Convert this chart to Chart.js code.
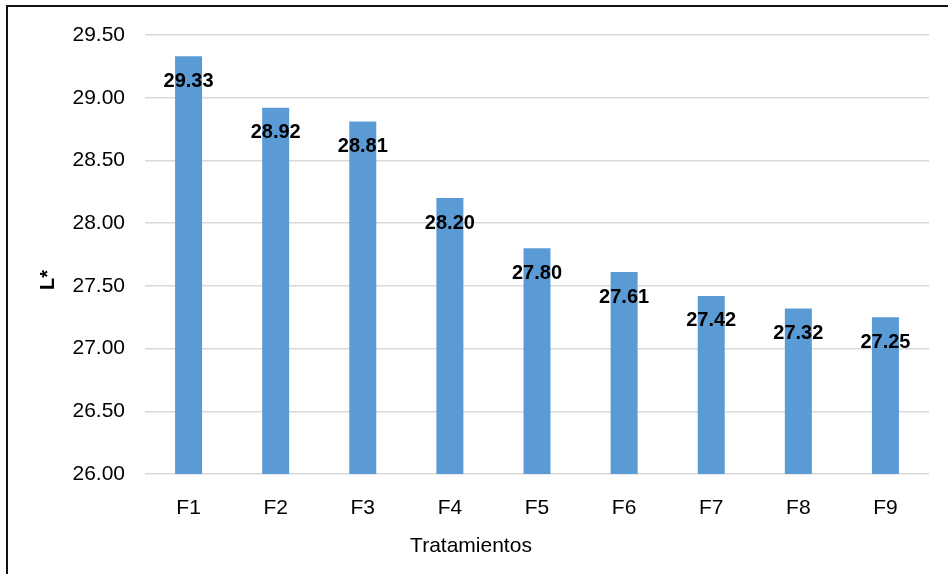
<!DOCTYPE html>
<html lang="es">
<head>
<meta charset="UTF-8">
<title>L* por tratamiento</title>
<script src="https://cdn.jsdelivr.net/npm/chart.js"></script>
<style>
  html, body { margin: 0; padding: 0; background: #fff; overflow: hidden; }
  .marco { position: absolute; left: 6px; top: 5px; width: 980px; height: 620px; border: 2px solid #111; }
  #grafico { position: absolute; left: 0; top: 0; }
</style>
</head>
<body>
<div class="marco"></div>
<canvas id="grafico" width="948" height="574"></canvas>
<script>
  // datos
  const tratamientos = ['F1', 'F2', 'F3', 'F4', 'F5', 'F6', 'F7', 'F8', 'F9'];
  const valoresL = [29.33, 28.92, 28.81, 28.20, 27.80, 27.61, 27.42, 27.32, 27.25];
  const yMin = 26.0, yMax = 29.5, yPaso = 0.5;
  const tituloX = 'Tratamientos';
  const tituloY = 'L*';

  const fuente = "'Liberation Sans', Arial, sans-serif";

  // etiquetas de valor dentro de la barra + titulos de ejes (en Excel no quedan centrados en el area)
  const etiquetasValor = {
    id: 'etiquetasValor',
    afterDatasetsDraw(chart) {
      const ctx = chart.ctx;
      const meta = chart.getDatasetMeta(0);
      ctx.save();
      ctx.font = 'bold 20px ' + fuente;
      ctx.fillStyle = '#000';
      ctx.textAlign = 'center';
      ctx.textBaseline = 'middle';
      meta.data.forEach(function (barra, i) {
        ctx.fillText(valoresL[i].toFixed(2), barra.x, barra.y + 25);
      });

      // titulo eje x
      ctx.font = '21px ' + fuente;
      ctx.fillText(tituloX, 471, 546);

      // titulo eje y
      ctx.translate(48, 280);
      ctx.rotate(-Math.PI / 2);
      ctx.font = 'bold 20px ' + fuente;
      ctx.fillText(tituloY, 0, 0);
      ctx.restore();
    }
  };

  new Chart(document.getElementById('grafico'), {
    type: 'bar',
    data: {
      labels: tratamientos,
      datasets: [{
        label: 'L*',
        data: valoresL,
        backgroundColor: '#5B9BD5',
        borderWidth: 0,
        barPercentage: 0.31,
        categoryPercentage: 1
      }]
    },
    options: {
      responsive: false,
      animation: false,
      layout: { padding: { left: 0, top: 35, right: 19, bottom: 0 } },
      plugins: {
        legend: { display: false },
        tooltip: { enabled: false }
      },
      scales: {
        x: {
          grid: { display: false },
          border: { display: false },
          ticks: { color: '#000', font: { family: fuente, size: 21 }, padding: 14 },
          afterFit(scale) { scale.height = 100; }
        },
        y: {
          min: yMin,
          max: yMax,
          grid: { color: '#d9d9d9', lineWidth: 1.5, drawTicks: false },
          border: { display: false },
          ticks: {
            stepSize: yPaso,
            color: '#000',
            font: { family: fuente, size: 21 },
            padding: 20,
            callback: function (v) { return Number(v).toFixed(2); }
          },
          afterFit(scale) { scale.width = 145; }
        }
      }
    },
    plugins: [etiquetasValor]
  });
</script>
</body>
</html>
